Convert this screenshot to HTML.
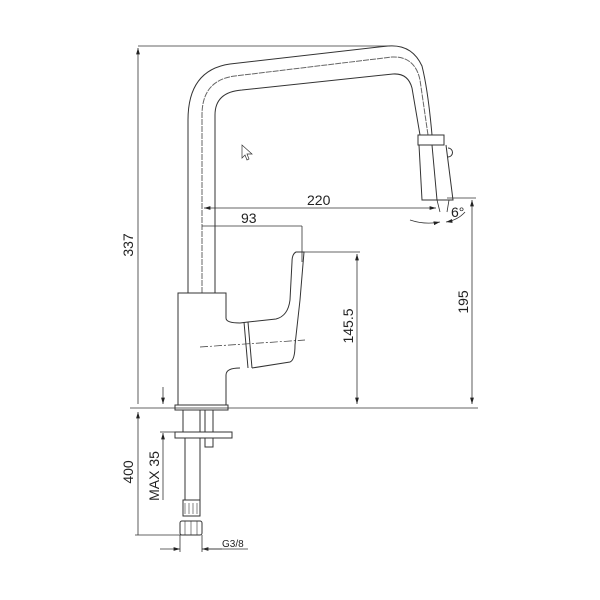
<!DOCTYPE html><html><head><style>body{margin:0;background:#fff}svg{display:block}text{font-family:"Liberation Sans",sans-serif;fill:#222}</style></head><body>
<svg width="600" height="600" viewBox="0 0 600 600" fill="none" stroke="#333" stroke-width="1">
<defs><marker id="a" viewBox="0 0 10 6" refX="10" refY="3" markerWidth="8" markerHeight="5" orient="auto-start-reverse"><path d="M0,0L10,3L0,6z" fill="#222" stroke="none"/></marker></defs>
<path d="M188,293 V120 Q188,70 230,64 L388,46 Q412,44 422,66 Q428,90 432,135"/>
<path d="M202,293 V115 Q202,80 235,76 L392,57 Q415,56 420,80 L428,135" stroke-dasharray="6,1" stroke="#666"/>
<path d="M215,293 V115 Q215,92 242,90 L393,74 Q408,73 412,88 L420,135"/>
<rect x="418" y="135" width="26" height="10"/>
<path d="M419,145 L422,200 H453 L446,145"/><line x1="432" y1="145" x2="437" y2="200"/>
<path d="M448,148 a4,4 0 1,1 0,9"/>
<path d="M437,200 L440,212 M449,200 L447,212" stroke-width="0.8"/>
<path d="M178,405 V293 H226 V318 Q226,323 240,323 L248,322 M240,368 Q226,368 226,375 V405"/>
<path d="M175,405 H228 V410 H175Z"/>
<path d="M248,322 L252,368 M244,322 L248,368"/>
<path d="M252,368 L290,362 Q295,360 295,345 L300,300 L304,252 H296 Q292,254 292,262 L290,300 Q288,316 276,319 L248,322"/>
<line x1="200" y1="347" x2="305" y2="340" stroke-dasharray="8,2,2,2" stroke-width="0.7"/>
<path d="M183,410 V432 M200,410 V432 M205,410 V432 M213,410 V432"/>
<rect x="175" y="432" width="57" height="6"/>
<path d="M205,438 V447 H213 V438"/>
<path d="M185,438 V500 M200,438 V500"/>
<rect x="183" y="500" width="17" height="16"/>
<path d="M185,503 V514 M189,503 V514 M193,503 V514 M197,503 V514" stroke-width="0.6"/>
<rect x="180" y="521" width="22" height="14" rx="2"/>
<path d="M185,521 V535 M191,521 V535 M197,521 V535" stroke-width="0.6"/>
<g stroke-width="0.8">
<line x1="138" y1="46" x2="390" y2="46"/>
<line x1="138" y1="404" x2="138" y2="48" marker-end="url(#a)"/>
<line x1="130" y1="408" x2="478" y2="408"/>
<line x1="138" y1="412" x2="138" y2="535" marker-start="url(#a)"/>
<line x1="135" y1="535" x2="200" y2="535"/>
<line x1="163" y1="387" x2="163" y2="404" marker-end="url(#a)"/>
<line x1="163" y1="433" x2="163" y2="500" marker-start="url(#a)"/>
<line x1="160" y1="432" x2="175" y2="432"/>
<line x1="160" y1="549" x2="180" y2="549" marker-end="url(#a)"/>
<line x1="222" y1="549" x2="202" y2="549" marker-end="url(#a)"/>
<line x1="202" y1="549" x2="248" y2="549"/>
<line x1="180" y1="535" x2="180" y2="552"/><line x1="202" y1="535" x2="202" y2="552"/>
<line x1="204" y1="208" x2="436" y2="208" marker-start="url(#a)" marker-end="url(#a)"/>
<line x1="202" y1="226" x2="302" y2="226"/>
<line x1="302" y1="226" x2="302" y2="262"/>
<line x1="447" y1="198" x2="476" y2="198"/>
<line x1="472" y1="200" x2="472" y2="404" marker-start="url(#a)" marker-end="url(#a)"/>
<line x1="300" y1="252" x2="360" y2="252"/>
<line x1="357" y1="254" x2="357" y2="404" marker-start="url(#a)" marker-end="url(#a)"/>
<path d="M410,220 Q425,225 440,222" marker-end="url(#a)"/>
<path d="M465,212 Q458,220 446,222" marker-end="url(#a)"/>
</g>
<path d="M242,145 V158 L245,155 L247,160 L249,159 L247,154 L252,154Z" stroke-width="0.7"/>
<g stroke="none" font-size="14">
<text x="307" y="205">220</text>
<text x="241" y="223">93</text>
<text x="451" y="217">6°</text>
<text transform="translate(133,245) rotate(-90)" text-anchor="middle">337</text>
<text transform="translate(353,326) rotate(-90)" text-anchor="middle">145.5</text>
<text transform="translate(468,302) rotate(-90)" text-anchor="middle">195</text>
<text transform="translate(133,472) rotate(-90)" text-anchor="middle">400</text>
<text transform="translate(159,476) rotate(-90)" text-anchor="middle">MAX 35</text>
<text x="222" y="547" font-size="10">G3/8</text>
</g>
</svg></body></html>
